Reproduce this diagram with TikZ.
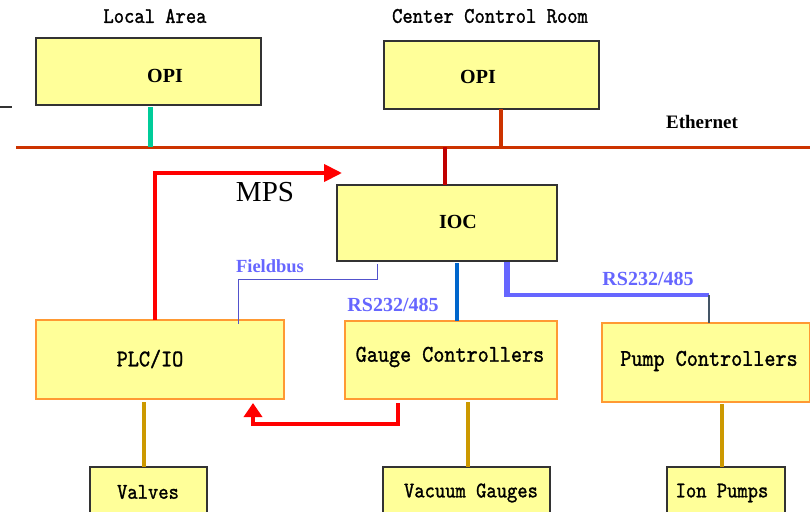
\documentclass[tikz,border=0pt]{standalone}
\usepackage{fontspec}
\setmainfont{Liberation Serif}
\newfontfamily\monofnt[FakeStretch=0.88, FakeBold=1.2]{lmmono10-regular.otf}
\usetikzlibrary{arrows.meta}
\definecolor{boxfill}{HTML}{FFFF99}
\definecolor{boxdark}{HTML}{333333}
\definecolor{boxorange}{HTML}{FF9933}
\definecolor{ethred}{HTML}{CC3300}
\definecolor{iocred}{HTML}{C00000}
\definecolor{opigreen}{HTML}{00CC99}
\definecolor{gold}{HTML}{CC9900}
\definecolor{lblue}{HTML}{6666FF}
\definecolor{dblue}{HTML}{0066CC}
\definecolor{slate}{HTML}{445566}
\definecolor{mpsred}{HTML}{FF0000}
\tikzset{
  boxbase/.style={rectangle, inner sep=0, outer sep=0, fill=boxfill},
  topbox/.style={boxbase, draw=boxdark, line width=1.2},
  midbox/.style={boxbase, draw=boxorange, line width=1.5},
  boldlbl/.style={inner sep=0, font=\fontsize{20}{22}\selectfont\bfseries},
  bluelbl/.style={boldlbl, text=lblue},
  monobig/.style={inner sep=0, font=\monofnt\fontsize{24}{26}\selectfont},
  monosmall/.style={inner sep=0, font=\monofnt\fontsize{22.3}{24}\selectfont},
  goldline/.style={draw=gold, line width=3.5},
  redarrow/.style={draw=mpsred, line width=4}
}
\begin{document}
\begin{tikzpicture}[x=1pt,y=-1pt]
\useasboundingbox (0,0) rectangle (810,511);
\clip (0,0) rectangle (810,511);
% headings
\node[monosmall] (hlocal) at (155,16) {Local Area};
\node[monosmall] (hcenter) at (490,16) {Center Control Room};
% top boxes
\node[topbox, minimum width=225, minimum height=67] (opiL) at (148.5,71.5) {};
\node[boldlbl] (opiLt) at (165,76) {OPI};
\node[topbox, minimum width=215, minimum height=68] (opiC) at (491.5,75) {};
\node[boldlbl] (opiCt) at (478,77) {OPI};
% stray tick
\coordinate (tk1) at (0,107); \coordinate (tk2) at (12,107);
\draw[boxdark, line width=1.2] (tk1) -- (tk2);
% ethernet
\coordinate (ethL) at (16,147); \coordinate (ethR) at (812,147);
\draw[ethred, line width=3] (ethL) -- (ethR);
\node[boldlbl, font=\fontsize{19}{21}\selectfont\bfseries] (ethlbl) at (702,122) {Ethernet};
\coordinate (e1) at (150,147); \coordinate (e2) at (501,147); \coordinate (e3) at (445,147);
\draw[opigreen, line width=5] (e1 |- opiL.south) ++(0,2) -- (e1);
\draw[ethred, line width=3.5] (e2 |- opiC.south) -- (e2);
% IOC
\node[topbox, minimum width=220, minimum height=76] (ioc) at (447,223) {};
\node[boldlbl] (ioct) at (458,222) {IOC};
\draw[iocred, line width=4.5] (e3) -- (e3 |- ioc.north);
\node[font=\fontsize{29}{31}\selectfont, inner sep=0] (mps) at (265,192) {MPS};
% middle boxes
\node[midbox, minimum width=248, minimum height=79] (plc) at (160,359.5) {};
\node[monobig] (plct) at (150,359) {PLC/IO};
\node[midbox, minimum width=212, minimum height=78] (gauge) at (451,360) {};
\node[monobig] (gauget) at (450,357) {Gauge Controllers};
\node[midbox, minimum width=208, minimum height=79] (pump) at (706,362.5) {};
\node[monobig] (pumpt) at (709,361) {Pump Controllers};
% MPS arrow
\coordinate (m0) at (155,320); \coordinate (mtip) at (342,173);
\draw[redarrow, -{Triangle[length=18,width=17]}] (m0 |- plc.north) |- (mtip);
% Gauge -> PLC arrow
\coordinate (g1) at (398,403); \coordinate (gm) at (320,424); \coordinate (g2) at (253,403);
\draw[redarrow, -{Triangle[length=14,width=18]}] (g1) |- (gm) -| (g2);
% Fieldbus
\coordinate (f1) at (377,264); \coordinate (f2) at (238,279); \coordinate (f3) at (238,324);
\draw[lblue!80!black, line width=1] (f1) |- (f2) -- (f3);
\node[bluelbl, font=\fontsize{18.5}{20}\selectfont\bfseries] (fb) at (270,266) {Fieldbus};
% RS232 to gauge
\coordinate (r1) at (457,263);
\draw[dblue, line width=4] (r1) -- (r1 |- gauge.north);
\node[bluelbl] (rs1) at (393,305) {RS232/485};
% RS232 to pump
\coordinate (p1) at (507,262); \coordinate (p2) at (507,295); \coordinate (p3) at (709,295);
\draw[lblue, line width=6] (p1) -- (p2);
\draw[lblue, line width=3.5] (p2) ++(-3,0) -- (p3);
\draw[slate, line width=1.5] (p3) -- (p3 |- pump.north);
\node[bluelbl] (rs2) at (648,279) {RS232/485};
% bottom boxes
\node[topbox, minimum width=117, minimum height=80] (valves) at (148.5,507) {};
\node[monosmall] (valvest) at (148,492) {Valves};
\node[topbox, minimum width=167, minimum height=80] (vgauges) at (466.5,507) {};
\node[monosmall] (vgaugest) at (471,493) {Vacuum Gauges};
\node[topbox, minimum width=118, minimum height=80] (ion) at (726,507) {};
\node[monosmall] (iont) at (722,493) {Ion Pumps};
% gold connectors
\coordinate (v1) at (144,402); \coordinate (v2) at (468,402); \coordinate (v3) at (722,404);
\draw[goldline] (v1) -- (v1 |- valves.north);
\draw[goldline] (v2) -- (v2 |- vgauges.north);
\draw[goldline] (v3) -- (v3 |- ion.north);
\end{tikzpicture}
\end{document}
